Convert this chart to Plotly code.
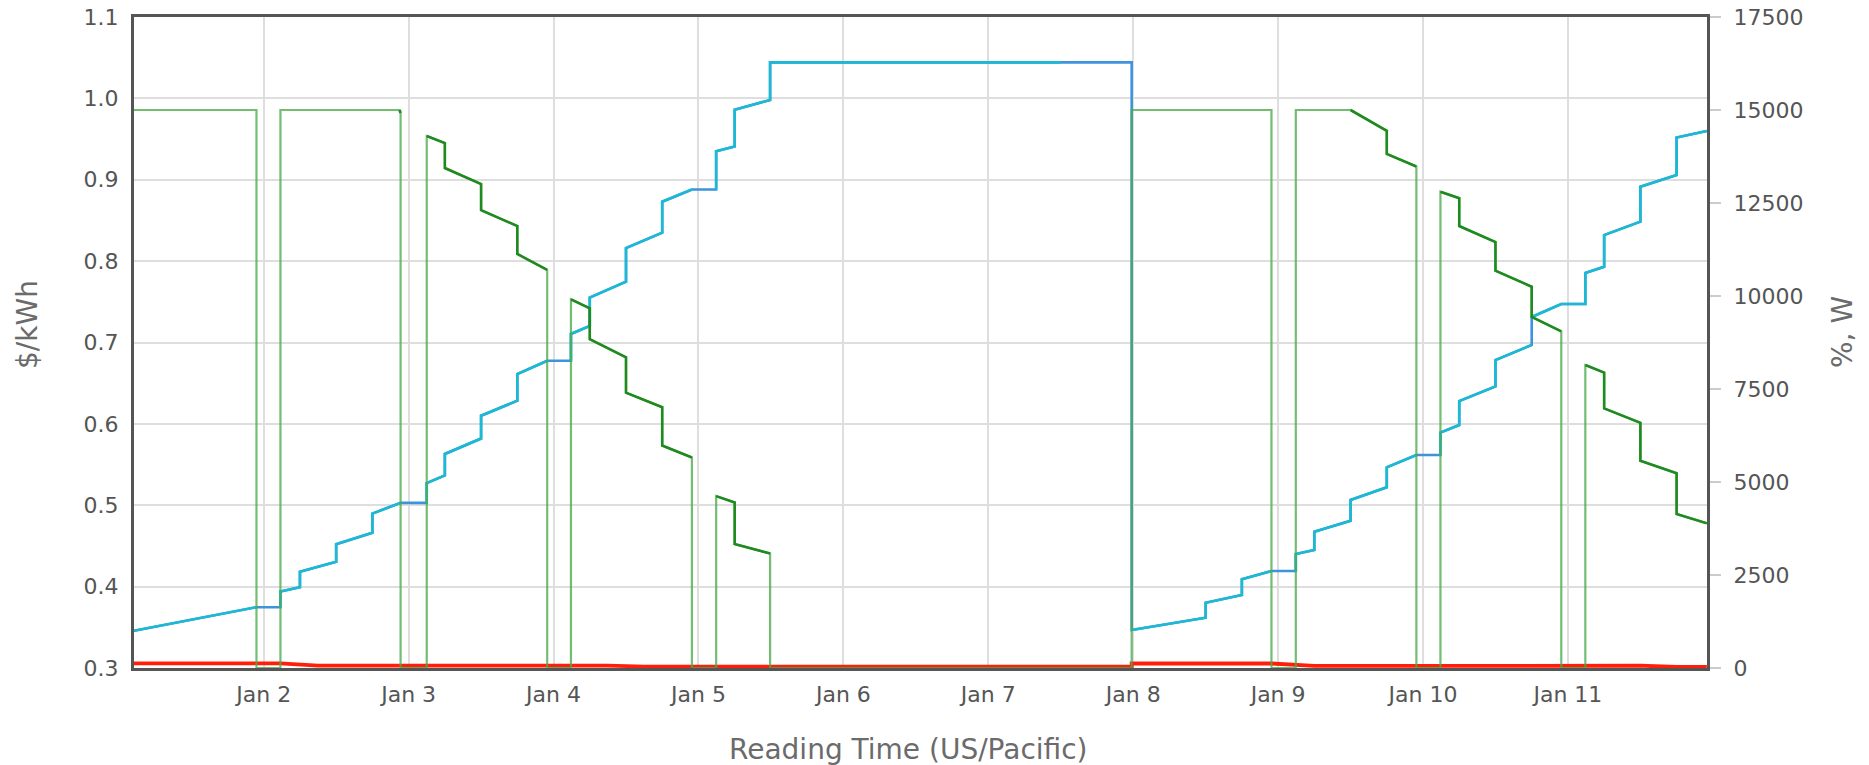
import plotly.graph_objects as go

# ---------------- data ----------------
# Charger power (W, right axis) - stepped profile
power_t = [
    "2023-01-01 02:30", "2023-01-01 22:48", "2023-01-01 22:48", "2023-01-02 02:46",
    "2023-01-02 02:46", "2023-01-02 22:30", "2023-01-02 22:40", "2023-01-02 22:40",
    "2023-01-03 03:00", "2023-01-03 03:00", "2023-01-03 06:00", "2023-01-03 06:00",
    "2023-01-03 12:00", "2023-01-03 12:00", "2023-01-03 18:00", "2023-01-03 18:00",
    "2023-01-03 22:57", "2023-01-03 22:57", "2023-01-04 02:53", "2023-01-04 02:53",
    "2023-01-04 06:00", "2023-01-04 06:00", "2023-01-04 12:00", "2023-01-04 12:00",
    "2023-01-04 18:00", "2023-01-04 18:00", "2023-01-04 22:55", "2023-01-04 22:55",
    "2023-01-05 02:56", "2023-01-05 02:56", "2023-01-05 06:00", "2023-01-05 06:00",
    "2023-01-05 11:52", "2023-01-05 11:52", "2023-01-07 23:45", "2023-01-07 23:45",
    "2023-01-08 22:54", "2023-01-08 22:54", "2023-01-09 02:56", "2023-01-09 02:56",
    "2023-01-09 12:00", "2023-01-09 18:00", "2023-01-09 18:00", "2023-01-09 22:54",
    "2023-01-09 22:54", "2023-01-10 02:53", "2023-01-10 02:53", "2023-01-10 06:00",
    "2023-01-10 06:00", "2023-01-10 12:00", "2023-01-10 12:00", "2023-01-10 18:00",
    "2023-01-10 18:00", "2023-01-10 22:54", "2023-01-10 22:54", "2023-01-11 02:53",
    "2023-01-11 02:53", "2023-01-11 06:00", "2023-01-11 06:00", "2023-01-11 12:00",
    "2023-01-11 12:00", "2023-01-11 18:00", "2023-01-11 18:00", "2023-01-11 23:00",
]
power_w = [
    15000, 15000, 0, 0,
    15000, 15000, 14920, 0,
    0, 14300, 14110, 13440,
    13010, 12310, 11880, 11130,
    10700, 0, 0, 9910,
    9670, 8840, 8350, 7400,
    7010, 5980, 5660, 0,
    0, 4620, 4450, 3330,
    3080, 0, 0, 15000,
    15000, 0, 0, 15000,
    15000, 14440, 13820, 13480,
    0, 0, 12800, 12630,
    11880, 11450, 10680, 10250,
    9440, 9050, 0, 0,
    8145, 7940, 6980, 6590,
    5570, 5235, 4140, 3890,
]
POWER_MAX = 15000

# Level series (left axis)
level_t = [
    "2023-01-01 02:30", "2023-01-01 22:48", "2023-01-02 02:46", "2023-01-02 02:46",
    "2023-01-02 06:00", "2023-01-02 06:00", "2023-01-02 12:00", "2023-01-02 12:00",
    "2023-01-02 18:00", "2023-01-02 18:00", "2023-01-02 22:40", "2023-01-03 03:00",
    "2023-01-03 03:00", "2023-01-03 06:00", "2023-01-03 06:00", "2023-01-03 12:00",
    "2023-01-03 12:00", "2023-01-03 18:00", "2023-01-03 18:00", "2023-01-03 22:57",
    "2023-01-04 02:53", "2023-01-04 02:53", "2023-01-04 06:00", "2023-01-04 06:00",
    "2023-01-04 12:00", "2023-01-04 12:00", "2023-01-04 18:00", "2023-01-04 18:00",
    "2023-01-04 22:55", "2023-01-05 02:56", "2023-01-05 02:56", "2023-01-05 06:00",
    "2023-01-05 06:00", "2023-01-05 11:52", "2023-01-05 11:52", "2023-01-07 12:00",
    "2023-01-07 23:45", "2023-01-07 23:45", "2023-01-08 12:00", "2023-01-08 12:00",
    "2023-01-08 18:00", "2023-01-08 18:00", "2023-01-08 22:54", "2023-01-09 02:56",
    "2023-01-09 02:56", "2023-01-09 06:00", "2023-01-09 06:00", "2023-01-09 12:00",
    "2023-01-09 12:00", "2023-01-09 18:00", "2023-01-09 18:00", "2023-01-09 22:54",
    "2023-01-10 02:53", "2023-01-10 02:53", "2023-01-10 06:00", "2023-01-10 06:00",
    "2023-01-10 12:00", "2023-01-10 12:00", "2023-01-10 18:00", "2023-01-10 18:00",
    "2023-01-10 22:54", "2023-01-11 02:53", "2023-01-11 02:53", "2023-01-11 06:00",
    "2023-01-11 06:00", "2023-01-11 12:00", "2023-01-11 12:00", "2023-01-11 18:00",
    "2023-01-11 18:00", "2023-01-11 23:00",
]
level_v = [
    0.3457, 0.3747, 0.3747, 0.3939,
    0.3992, 0.4184, 0.4306, 0.4522,
    0.4661, 0.4898, 0.5029, 0.5029,
    0.5273, 0.5367, 0.5630, 0.5820,
    0.6100, 0.6285, 0.6613, 0.6776,
    0.6776, 0.7105, 0.7203, 0.7551,
    0.7747, 0.8160, 0.8350, 0.8730,
    0.8880, 0.8880, 0.9350, 0.9410,
    0.9860, 0.9980, 1.0443, 1.0443,
    1.0443, 0.3467, 0.3618, 0.3802,
    0.3897, 0.4090, 0.4192, 0.4192,
    0.4401, 0.4450, 0.4675, 0.4810,
    0.5065, 0.5220, 0.5466, 0.5617,
    0.5617, 0.5892, 0.5986, 0.6280,
    0.6460, 0.6785, 0.6970, 0.7314,
    0.7473, 0.7473, 0.7855, 0.7931,
    0.8320, 0.8485, 0.8915, 0.9058,
    0.9520, 0.9600,
]
# 1 = segment to next point shown only in the blue (underlying) series
level_blue_seg = [
    0, 1, 0, 0, 0, 0, 0, 0, 0, 0, 1, 0,
    0, 0, 0, 0, 0, 0, 0, 1, 0, 0, 0, 0,
    0, 0, 0, 0, 1, 0, 0, 0, 0, 0, 0, 1,
    1, 0, 0, 0, 0, 0, 1, 0, 0, 0, 0, 0,
    0, 0, 0, 1, 0, 0, 0, 0, 0, 0, 1, 0,
    0, 0, 0, 0, 0, 0, 0, 0, 0, 0,
]

# Price ($/kWh, left axis)
price_t = [
    "2023-01-01 02:30", "2023-01-02 02:46", "2023-01-02 09:00", "2023-01-04 09:00",
    "2023-01-04 15:00", "2023-01-07 23:45", "2023-01-07 23:45", "2023-01-08 22:54",
    "2023-01-09 06:00", "2023-01-11 12:00", "2023-01-11 18:00", "2023-01-11 23:00",
]
price_v = [
    0.3058, 0.3058, 0.3028, 0.3030,
    0.3018, 0.3018, 0.3055, 0.3055,
    0.3025, 0.3028, 0.3012, 0.3012,
]

x_range = ["2023-01-01 02:31", "2023-01-11 23:02"]
left_range = [0.3, 1.1]
right_range = [0, 17500]

x_title = "Reading Time (US/Pacific)"
left_title = "$/kWh"
right_title = "%, W"

# ---------------- derived series ----------------
n = len(power_w)
dark_t, dark_v = [], []
for i in range(n):
    v = power_w[i]
    nxt = power_w[i + 1] if i + 1 < n else None
    keep = v > 0 and (v < POWER_MAX or (nxt is not None and 0 < nxt < POWER_MAX))
    dark_t.append(power_t[i])
    dark_v.append(v if keep else None)

cyan_t, cyan_v = [], []
for i in range(len(level_v)):
    cyan_t.append(level_t[i])
    cyan_v.append(level_v[i])
    if level_blue_seg[i]:
        cyan_t.append(level_t[i])
        cyan_v.append(None)

# ---------------- figure ----------------
fig = go.Figure()
fig.add_trace(go.Scatter(x=power_t, y=power_w, yaxis="y2", mode="lines",
                         line=dict(color="rgba(76,170,76,0.78)", width=2.2),
                         name="Power limit", showlegend=False))
fig.add_trace(go.Scatter(x=dark_t, y=dark_v, yaxis="y2", mode="lines",
                         line=dict(color="#1f8a1f", width=2.6),
                         connectgaps=False, name="Power", showlegend=False))
fig.add_trace(go.Scatter(x=level_t, y=level_v, mode="lines",
                         line=dict(color="#3d94dc", width=2.6),
                         name="Level", showlegend=False))
fig.add_trace(go.Scatter(x=cyan_t, y=cyan_v, mode="lines",
                         line=dict(color="#1bb9d3", width=2.6),
                         connectgaps=False, name="Level (charging)", showlegend=False))
fig.add_trace(go.Scatter(x=price_t, y=price_v, mode="lines",
                         line=dict(color="#ff1e0a", width=3.8),
                         name="Price", showlegend=False))

tick_font = dict(family="DejaVu Sans", size=22, color="#555555")
title_font = dict(family="DejaVu Sans", size=28, color="#6b6b6b")

# plot area spans page x 134..1707, y 17..668 (body margin removed below)
L, R, T, B = 134, 162, 17, 97
W, H = 1869, 765
pw, ph = W - L - R, H - T - B

fig.update_layout(
    width=W, height=H, autosize=False,
    margin=dict(l=L, r=R, t=T, b=B, autoexpand=False),
    paper_bgcolor="white", plot_bgcolor="white",
    font=dict(family="DejaVu Sans", color="#555555"),
    showlegend=False,
    xaxis=dict(
        type="date", range=x_range, automargin=False,
        tick0="2023-01-02", dtick=86400000, tickformat="%b %-d",
        showgrid=True, gridcolor="#dedede", gridwidth=1.5,
        showline=True, linecolor="#555555", linewidth=3, mirror=True,
        ticks="outside", ticklen=5, tickcolor="rgba(0,0,0,0)",
        tickfont=tick_font, zeroline=False,
    ),
    yaxis=dict(
        range=left_range, dtick=0.1, tickformat=".1f", automargin=False,
        showgrid=True, gridcolor="#dedede", gridwidth=1.5,
        showline=True, linecolor="#555555", linewidth=3, mirror=True,
        ticks="outside", ticklen=8, tickcolor="rgba(0,0,0,0)",
        tickfont=tick_font, zeroline=False,
    ),
    yaxis2=dict(
        range=right_range, dtick=2500, tickformat="d", automargin=False,
        overlaying="y", side="right", showgrid=False,
        showline=True, linecolor="#555555", linewidth=3,
        ticks="outside", ticklen=11, tickcolor="#cccccc", tickwidth=1.5,
        ticklabelstandoff=8,
        tickfont=tick_font, zeroline=False,
    ),
    annotations=[
        dict(text=x_title, xref="paper", yref="paper",
             x=(908 - L) / pw, y=-(749 - (T + ph)) / ph,
             xanchor="center", yanchor="middle", showarrow=False, font=title_font),
        dict(text=left_title, xref="paper", yref="paper", textangle=-90,
             x=(27 - L) / pw, y=((T + ph) - 325) / ph,
             xanchor="center", yanchor="middle", showarrow=False, font=title_font),
        dict(text=right_title, xref="paper", yref="paper", textangle=-90,
             x=(1842 - L) / pw, y=((T + ph) - 332) / ph,
             xanchor="center", yanchor="middle", showarrow=False, font=title_font),
    ],
)

fig.write_html(
    "out.html",
    config={"displayModeBar": False},
    post_script="document.body.style.margin='0';document.body.style.overflow='hidden';",
)
